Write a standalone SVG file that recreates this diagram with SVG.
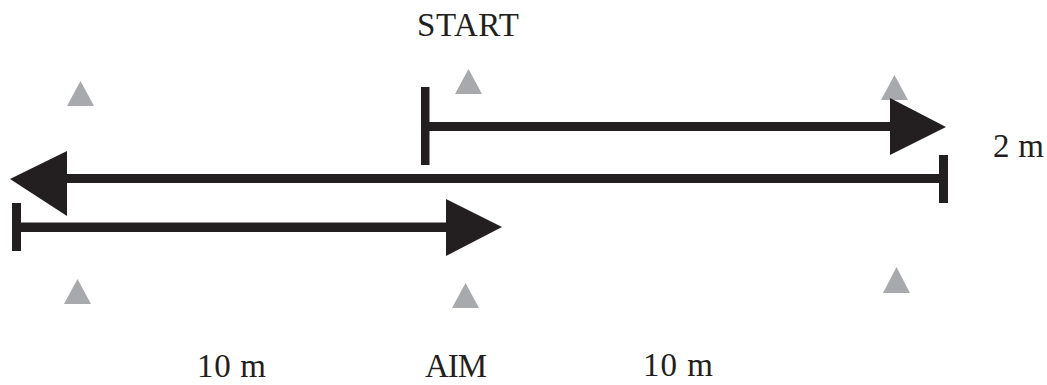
<svg xmlns="http://www.w3.org/2000/svg" width="1047" height="385" viewBox="0 0 1047 385">
<style>
.cone{fill:#a7a9ac}
.ink{fill:#231f20}
.lbl{font-family:"Liberation Serif","Times New Roman",serif;font-size:33px;fill:#231f20}
</style>
<rect width="1047" height="385" fill="#ffffff"/>
<g id="cone-tl"><polygon class="cone" points="80.5,81 67,106 94,106"/></g>
<g id="cone-tm"><polygon class="cone" points="468.5,69 455,94 482,94"/></g>
<g id="cone-tr"><polygon class="cone" points="894.5,75 881,100 908,100"/></g>
<g id="cone-bl"><polygon class="cone" points="77.5,279 64,304 91,304"/></g>
<g id="cone-bm"><polygon class="cone" points="465.5,283 452,308 479,308"/></g>
<g id="cone-br"><polygon class="cone" points="896.5,267 883,293 910,293"/></g>
<g id="connectors">
<g id="arrow-start">
<rect class="ink" x="421" y="87" width="8.5" height="78"/>
<rect class="ink" x="429" y="122" width="463" height="9"/>
<polygon class="ink" points="890,98 946,127 890,155"/>
</g>
<g id="arrow-back">
<rect class="ink" x="939" y="155" width="9" height="48"/>
<rect class="ink" x="65" y="174" width="875" height="9"/>
<polygon class="ink" points="67,151 10,179 67,216"/>
</g>
<g id="arrow-aim">
<rect class="ink" x="12" y="203" width="9" height="48"/>
<rect class="ink" x="21" y="222.5" width="427" height="9.5"/>
<polygon class="ink" points="446,199 502,227 446,256"/>
</g>
</g>
<g id="labels">
<text class="lbl" x="417" y="36" textLength="102">START</text>
<text class="lbl" x="993" y="157" textLength="51">2 m</text>
<text class="lbl" x="197" y="377" textLength="69">10 m</text>
<text class="lbl" x="425" y="377" textLength="62">AIM</text>
<text class="lbl" x="643" y="376" textLength="70">10 m</text>
</g>
</svg>
